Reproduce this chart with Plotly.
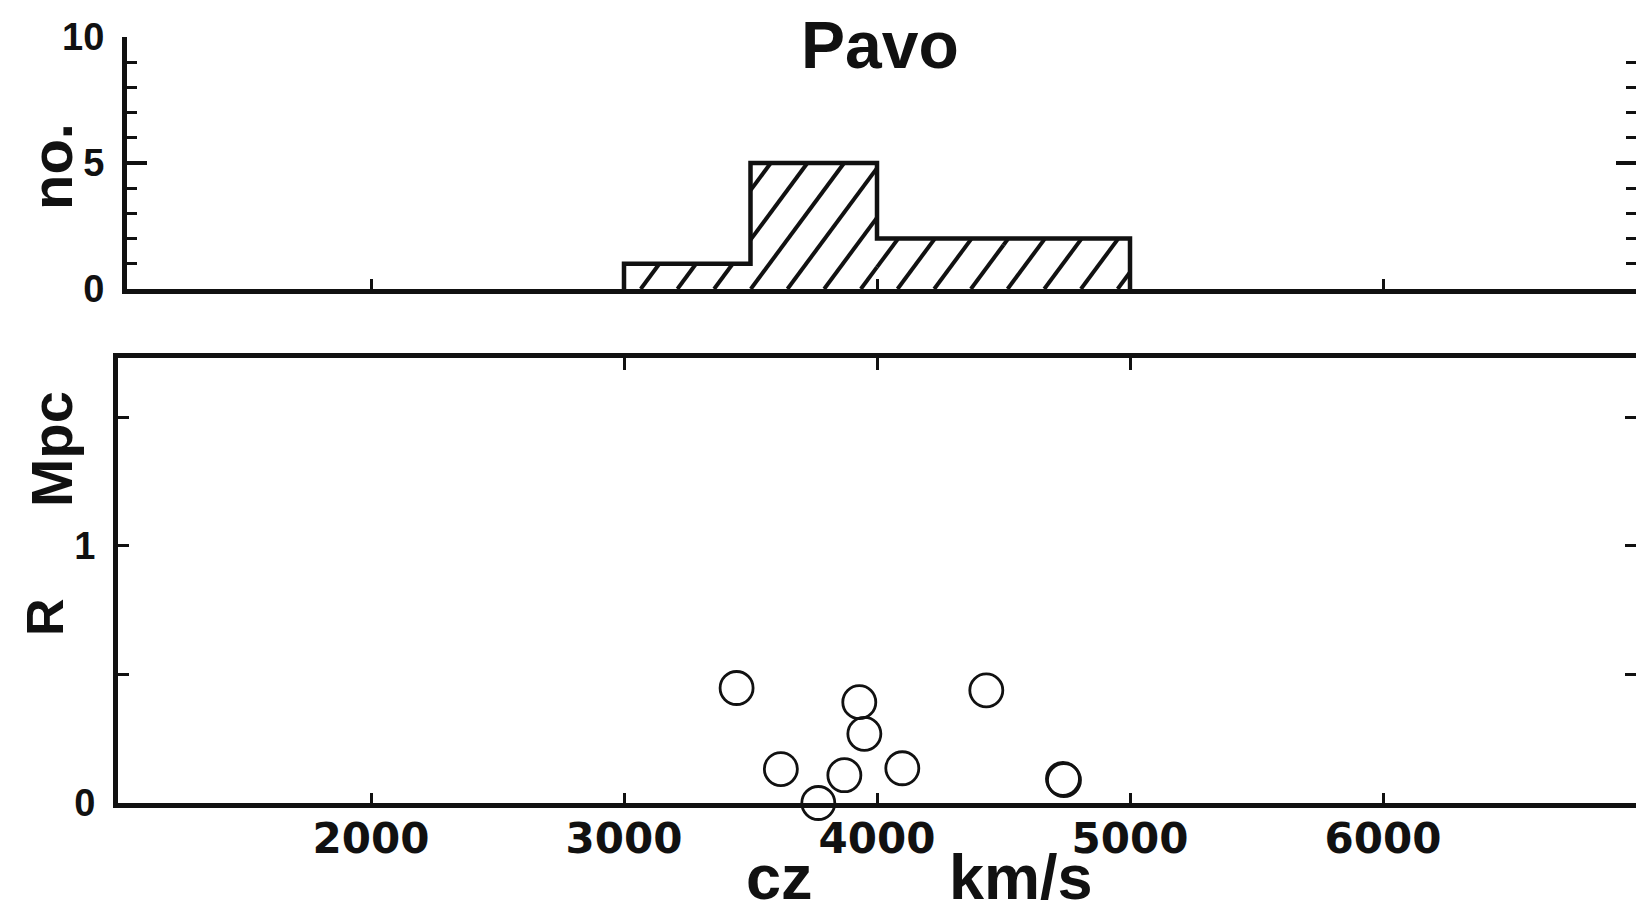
import plotly.graph_objects as go

# Pavo group: redshift histogram and projected radius vs. velocity
bin_edges = [3000, 3500, 4000, 4500, 5000]
bin_counts = [1, 5, 2, 2]

cz_kms = [3445, 3620, 3768, 3871, 3930, 3950, 4100, 4432, 4735, 4739]
r_mpc = [0.447, 0.132, 0.0, 0.108, 0.392, 0.269, 0.135, 0.438, 0.094, 0.089]

x_ticks = [2000, 3000, 4000, 5000, 6000]
x_tick_labels = ["2000", "3000", "4000", "5000", "6000"]
r_ticks = [0, 0.5, 1, 1.5]
r_tick_labels = ["0", "", "1", ""]

W, H = 1636, 915
X_RANGE = [1000, 7000]
X_DOM = [118 / W, 1.0]
TOP_LEFT_PX = 127
TOP_DOM = [1 - 289 / H, 1 - 37 / H]
BOT_DOM = [1 - 803 / H, 1 - 358 / H]
N_RANGE = [0, 10]
R_RANGE = [0, 1.73]

INK = "#111111"
AXW = 5

px_per_x = W * (X_DOM[1] - X_DOM[0]) / (X_RANGE[1] - X_RANGE[0])
# the upper panel's left axis sits a little to the right, same x scale
top_x_dom = [TOP_LEFT_PX / W, 1.0]
top_x_range = [X_RANGE[0] + (TOP_LEFT_PX - X_DOM[0] * W) / px_per_x, X_RANGE[1]]

# step outline of the histogram
step_x, step_y = [bin_edges[0]], [0]
for i, c in enumerate(bin_counts):
    step_x += [bin_edges[i], bin_edges[i + 1]]
    step_y += [c, c]
step_x.append(bin_edges[-1])
step_y.append(0)

# diagonal hatching clipped to the histogram area
px_per_n = H * (TOP_DOM[1] - TOP_DOM[0]) / (N_RANGE[1] - N_RANGE[0])
slope = 1.35 * px_per_x / px_per_n
spacing = 145
hx, hy = [], []
x0 = bin_edges[0] - max(bin_counts) / slope
while x0 < bin_edges[-1]:
    for i, c in enumerate(bin_counts):
        lo = max(bin_edges[i], x0)
        hi = min(bin_edges[i + 1], x0 + c / slope)
        if lo < hi:
            hx += [lo, hi, None]
            hy += [slope * (lo - x0), slope * (hi - x0), None]
    x0 += spacing

fig = go.Figure()
fig.add_trace(go.Scatter(x=hx, y=hy, mode="lines", line=dict(color=INK, width=4),
                         xaxis="x", yaxis="y", showlegend=False, hoverinfo="skip"))
fig.add_trace(go.Scatter(x=step_x, y=step_y, mode="lines", line=dict(color=INK, width=4.5),
                         xaxis="x", yaxis="y", showlegend=False))
fig.add_trace(go.Scatter(x=cz_kms, y=r_mpc, mode="markers",
                         marker=dict(size=33, color="rgba(0,0,0,0)",
                                     line=dict(color=INK, width=2.8)),
                         xaxis="x2", yaxis="y2", showlegend=False, cliponaxis=False))
# empty traces so the mirrored tick axes are laid out
fig.add_trace(go.Scatter(x=[], y=[], xaxis="x", yaxis="y3", showlegend=False))
fig.add_trace(go.Scatter(x=[], y=[], xaxis="x3", yaxis="y2", showlegend=False))
fig.add_trace(go.Scatter(x=[], y=[], xaxis="x2", yaxis="y4", showlegend=False))

tick_font_x = dict(family="DejaVu Sans", size=42, color=INK, weight="bold")
tick_font_y = dict(family="Liberation Sans", size=38, color=INK, weight="bold")
common = dict(showgrid=False, zeroline=False, showline=True, linecolor=INK,
              linewidth=AXW, ticks="inside", tickcolor=INK, automargin=False)
bare = dict(showline=False, showgrid=False, zeroline=False, showticklabels=False,
            automargin=False, ticks="inside", tickcolor=INK)

fig.update_layout(
    template="none",
    width=W, height=H, margin=dict(l=0, r=0, t=0, b=0, pad=0, autoexpand=False),
    paper_bgcolor="white", plot_bgcolor="white", showlegend=False,
    xaxis=dict(domain=top_x_dom, anchor="y", range=top_x_range, tickvals=x_ticks,
               ticklen=10, tickwidth=3, showticklabels=False, layer="below traces", **common),
    yaxis=dict(domain=TOP_DOM, anchor="x", range=N_RANGE, tickvals=[0, 5, 10],
               ticklen=20, tickwidth=4, tickfont=tick_font_y, ticklabelstandoff=10,
               minor=dict(dtick=1, ticklen=10, tickwidth=3, ticks="inside", tickcolor=INK),
               **common),
    yaxis3=dict(overlaying="y", side="right", anchor="x", range=N_RANGE,
                tickvals=[0, 5, 10], ticklen=20, tickwidth=4,
                minor=dict(dtick=1, ticklen=10, tickwidth=3, ticks="inside", tickcolor=INK),
                **bare),
    xaxis2=dict(domain=X_DOM, anchor="y2", range=X_RANGE, tickvals=x_ticks,
                ticktext=x_tick_labels, ticklen=10, tickwidth=3, tickfont=tick_font_x,
                ticklabelstandoff=-5, **common),
    xaxis3=dict(overlaying="x2", side="top", anchor="y2", range=X_RANGE,
                tickvals=[3000, 4000, 5000], ticklen=12, tickwidth=3,
                showticklabels=False, **common),
    yaxis2=dict(domain=BOT_DOM, anchor="x2", range=R_RANGE, tickvals=r_ticks,
                ticktext=r_tick_labels, ticklen=11, tickwidth=3, tickfont=tick_font_y,
                ticklabelstandoff=10, **common),
    yaxis4=dict(overlaying="y2", side="right", anchor="x2", range=R_RANGE,
                tickvals=r_ticks[1:], ticklen=11, tickwidth=3, **bare),
)

title_font = dict(family="Liberation Sans", size=66, color=INK, weight="bold")
label_font = dict(family="Liberation Sans", size=63, color=INK, weight="bold")
ylab_font = dict(family="Liberation Sans", size=58, color=INK, weight="bold")
r_font = dict(family="Liberation Sans", size=52, color=INK, weight="bold")


def note(text, x_px, y_px, font, angle=0):
    fig.add_annotation(text=text, x=x_px / W, y=1 - y_px / H, xref="paper", yref="paper",
                       xanchor="center", yanchor="middle", showarrow=False,
                       font=font, textangle=angle)


note("Pavo", 880, 45, title_font)
note("cz", 779, 877, label_font)
note("km/s", 1021, 877, label_font)
note("no.", 51, 167, ylab_font, -90)
note("R", 45, 617, r_font, -90)
note("Mpc", 52, 449, ylab_font, -90)

fig.write_html("out.html")
